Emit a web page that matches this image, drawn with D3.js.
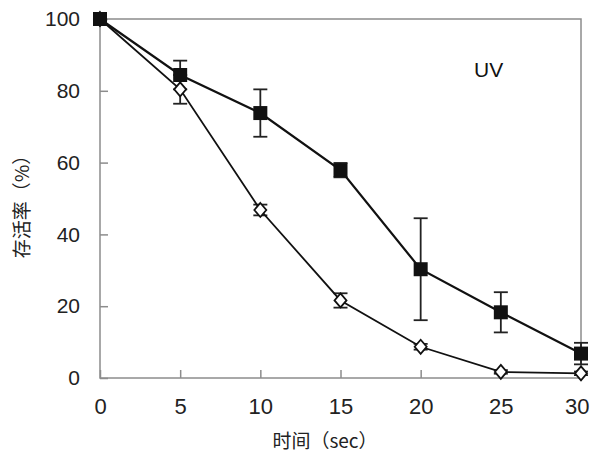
<!DOCTYPE html>
<html>
<head>
<meta charset="utf-8">
<script src="https://cdn.jsdelivr.net/npm/d3@7"></script>
<style>
  body { margin: 0; background: #fff; }
  svg { display: block; }
</style>
</head>
<body>
<div id="chart"></div>
<script>
  // time points (sec)
  var times = [0, 5, 10, 15, 20, 25, 30];
  // filled squares
  var squareMean = [100, 84.4, 73.8, 57.9, 30.3, 18.3, 6.8];
  var squareErr  = [0, 4.0, 6.6, 2.0, 14.2, 5.6, 3.0];
  // open diamonds
  var diamondMean = [100, 80.4, 46.8, 21.6, 8.7, 1.7, 1.3];
  var diamondErr  = [0, 4.0, 1.5, 2.0, 0.8, 0.5, 0.5];
  var xTicks = [0, 5, 10, 15, 20, 25, 30];
  var yTicks = [0, 20, 40, 60, 80, 100];

  var W = 592, H = 454;
  var plotL = 100, plotR = 581, plotT = 19, plotB = 378;

  var x = d3.scaleLinear().domain([0, 30]).range([plotL, plotR]);
  var y = d3.scaleLinear().domain([0, 100]).range([plotB, plotT]);

  var svg = d3.select("#chart").append("svg")
      .attr("width", W).attr("height", H);

  var axisColor = "#8c8c8c";
  var font = "'Liberation Sans', Arial, sans-serif";
  var cjk = "'Noto Sans CJK SC', sans-serif";

  // box
  svg.append("rect")
      .attr("x", plotL).attr("y", plotT)
      .attr("width", plotR - plotL).attr("height", plotB - plotT)
      .attr("fill", "none").attr("stroke", axisColor).attr("stroke-width", 1.5);

  // x axis ticks (pointing inward)
  var xAxis = d3.axisBottom(x).tickValues(xTicks).tickSizeInner(-8).tickSizeOuter(0);
  var gx = svg.append("g").attr("transform", "translate(0," + plotB + ")").call(xAxis);
  gx.select(".domain").remove();
  gx.selectAll(".tick line").attr("stroke", axisColor).attr("stroke-width", 1.5);
  gx.selectAll(".tick text").attr("font-family", font).attr("font-size", 22).attr("fill", "#222")
      .attr("y", 36).attr("dy", 0);
  // last label sits inside the page edge
  gx.selectAll(".tick text").filter(function (d) { return d === 30; })
      .attr("text-anchor", "end").attr("x", 8);

  var yAxis = d3.axisLeft(y).tickValues(yTicks).tickSizeInner(-8).tickSizeOuter(0).tickPadding(20);
  var gy = svg.append("g").attr("transform", "translate(" + plotL + ",0)").call(yAxis);
  gy.select(".domain").remove();
  gy.selectAll(".tick line").attr("stroke", axisColor).attr("stroke-width", 1.5);
  gy.selectAll(".tick text").attr("font-family", font).attr("font-size", 21).attr("fill", "#222");

  // axis titles
  svg.append("text")
      .attr("x", 325).attr("y", 448)
      .attr("text-anchor", "middle")
      .attr("font-family", cjk).attr("font-size", 19).attr("fill", "#222")
      .text("时间（sec）");

  svg.append("text")
      .attr("transform", "translate(29,202) rotate(-90)")
      .attr("text-anchor", "middle")
      .attr("font-family", cjk).attr("font-size", 19).attr("fill", "#222")
      .text("存活率（%）");

  svg.append("text")
      .attr("x", 474).attr("y", 77)
      .attr("font-family", font).attr("font-size", 21).attr("fill", "#111")
      .text("UV");

  function series(mean, err) {
    return times.map(function (t, i) { return { t: t, v: mean[i], e: err[i] }; });
  }
  var sq = series(squareMean, squareErr);
  var dm = series(diamondMean, diamondErr);

  var line = d3.line().x(function (d) { return x(d.t); }).y(function (d) { return y(d.v); });

  function errorBars(data) {
    var g = svg.append("g").attr("stroke", "#222").attr("stroke-width", 1.8).attr("fill", "none");
    data.filter(function (d) { return d.e > 0; }).forEach(function (d) {
      var cx = x(d.t);
      g.append("line").attr("x1", cx).attr("x2", cx).attr("y1", y(d.v + d.e)).attr("y2", y(d.v - d.e));
      [d.v + d.e, d.v - d.e].forEach(function (v) {
        g.append("line").attr("x1", cx - 7).attr("x2", cx + 7).attr("y1", y(v)).attr("y2", y(v));
      });
    });
  }

  errorBars(dm);
  errorBars(sq);

  svg.append("path").datum(dm).attr("d", line)
      .attr("fill", "none").attr("stroke", "#111").attr("stroke-width", 1.8);
  svg.append("path").datum(sq).attr("d", line)
      .attr("fill", "none").attr("stroke", "#111").attr("stroke-width", 2.2);

  svg.append("g").selectAll("path").data(dm).enter().append("path")
      .attr("d", "M0,-7L6,0L0,7L-6,0Z")
      .attr("transform", function (d) { return "translate(" + x(d.t) + "," + y(d.v) + ")"; })
      .attr("fill", "#fff").attr("stroke", "#111").attr("stroke-width", 1.8);

  svg.append("g").selectAll("rect").data(sq).enter().append("rect")
      .attr("x", function (d) { return x(d.t) - 7; })
      .attr("y", function (d) { return y(d.v) - 7; })
      .attr("width", 14).attr("height", 14)
      .attr("fill", "#111");
</script>
</body>
</html>
